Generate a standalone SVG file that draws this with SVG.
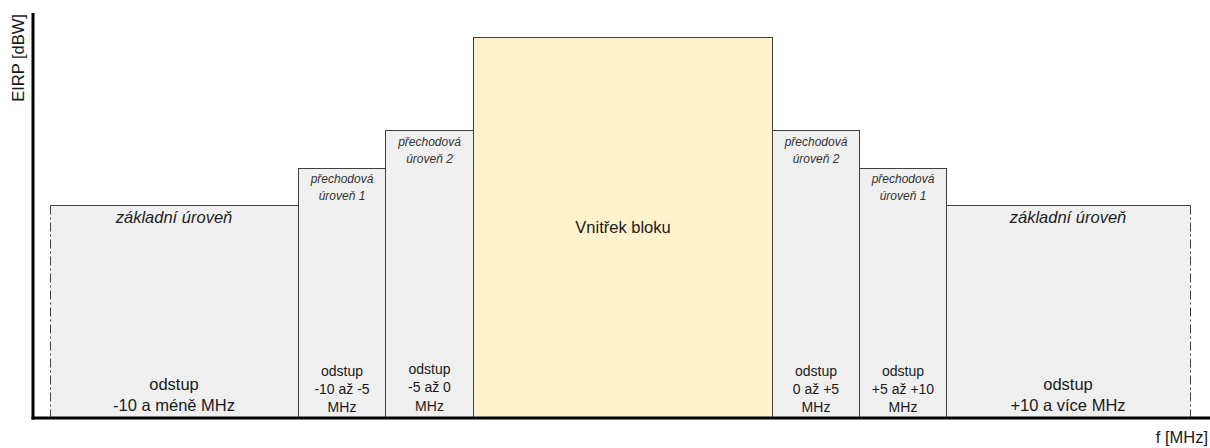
<svg xmlns="http://www.w3.org/2000/svg" width="1210" height="448" viewBox="0 0 1210 448">
<style>
.box{fill:#f0f0f0;stroke:#404040;stroke-width:1}
.fill{fill:#f0f0f0;stroke:none}
.edge{fill:none;stroke:#404040;stroke-width:1}
.dash{fill:none;stroke:#404040;stroke-width:1;stroke-dasharray:9 3 2 3}
.inner{fill:#fff2cc;stroke:#404040;stroke-width:1}
.axis{stroke:#000;stroke-width:3;fill:none}
text{font-family:"Liberation Sans",Arial,sans-serif;fill:#1a1a1a;text-anchor:middle}
.lbl{font-size:16.5px}
.sm{font-size:14px}
.it{font-size:16.5px;font-style:italic;fill:#222}
.its{font-size:12px;font-style:italic;fill:#333}
</style>
<g id="base-left">
<rect class="fill" x="50.5" y="205.5" width="248" height="212"/>
<path class="edge" d="M50.5 205.5H298.5"/>
<path class="dash" d="M50.5 205.5V417"/>
<text class="it" x="174" y="223">základní úroveň</text>
<text class="lbl" x="174" y="390">odstup</text>
<text class="lbl" x="174" y="411">-10 a méně MHz</text>
</g>
<g id="base-right">
<rect class="fill" x="946.5" y="205.5" width="244" height="212"/>
<path class="edge" d="M946.5 205.5H1190.5"/>
<path class="dash" d="M1190.5 205.5V417"/>
<text class="it" x="1068" y="223">základní úroveň</text>
<text class="lbl" x="1068" y="390">odstup</text>
<text class="lbl" x="1068" y="411">+10 a více MHz</text>
</g>
<g id="trans1-left">
<rect class="box" x="298.5" y="168.5" width="87" height="250"/>
<text class="its" x="342" y="183">přechodová</text>
<text class="its" x="342" y="200">úroveň 1</text>
<text class="sm" x="342" y="376">odstup</text>
<text class="sm" x="342" y="394">-10 až -5</text>
<text class="sm" x="342" y="412">MHz</text>
</g>
<g id="trans2-left">
<rect class="box" x="385.5" y="130.5" width="88" height="288"/>
<text class="its" x="429.5" y="146">přechodová</text>
<text class="its" x="429.5" y="163">úroveň 2</text>
<text class="sm" x="429.5" y="374">odstup</text>
<text class="sm" x="429.5" y="392">-5 až 0</text>
<text class="sm" x="429.5" y="411">MHz</text>
</g>
<g id="inner">
<rect class="inner" x="473.5" y="37.5" width="299" height="381"/>
<text class="lbl" x="623" y="233">Vnitřek bloku</text>
</g>
<g id="trans2-right">
<rect class="box" x="772.5" y="130.5" width="87" height="288"/>
<text class="its" x="816" y="146">přechodová</text>
<text class="its" x="816" y="163">úroveň 2</text>
<text class="sm" x="816" y="376">odstup</text>
<text class="sm" x="816" y="394">0 až +5</text>
<text class="sm" x="816" y="412">MHz</text>
</g>
<g id="trans1-right">
<rect class="box" x="859.5" y="168.5" width="87" height="250"/>
<text class="its" x="903" y="183">přechodová</text>
<text class="its" x="903" y="200">úroveň 1</text>
<text class="sm" x="903" y="376">odstup</text>
<text class="sm" x="903" y="394">+5 až +10</text>
<text class="sm" x="903" y="412">MHz</text>
</g>
<g id="axes">
<path class="axis" d="M33 13V419.5"/>
<path class="axis" d="M31.5 418H1210"/>
<text class="lbl" x="0" y="0" transform="translate(24 58) rotate(-90)">EIRP [dBW]</text>
<text class="lbl" x="1208" y="443" style="text-anchor:end">f [MHz]</text>
</g>
</svg>
